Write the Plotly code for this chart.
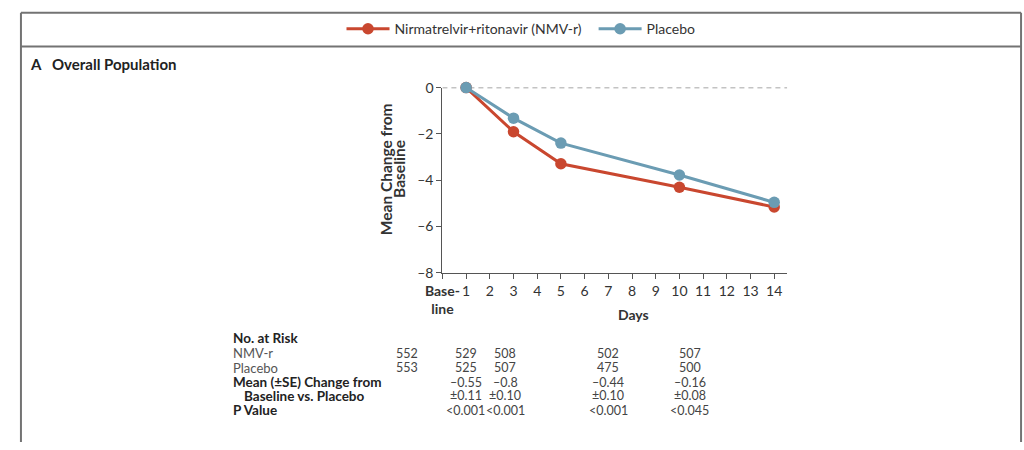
import plotly.graph_objects as go

# ---- data ----
days = [1, 3, 5, 10, 14]
nmv_r = [0.0, -1.91, -3.29, -4.31, -5.16]
placebo = [0.0, -1.32, -2.40, -3.78, -4.96]

x_tick_vals = list(range(0, 15))
x_tick_text = ["<b>Base-</b><br><b>line</b>"] + [str(d) for d in range(1, 15)]
y_tick_vals = [0, -2, -4, -6, -8]
y_tick_text = ["0", "–2", "–4", "–6", "–8"]

risk_nmv = ["552", "529", "508", "502", "507"]
risk_pbo = ["553", "525", "507", "475", "500"]
diff_mean = ["", "–0.55", "–0.8", "–0.44", "–0.16"]
diff_se = ["", "±0.11", "±0.10", "±0.10", "±0.08"]
p_values = ["", "<0.001", "<0.001", "<0.001", "<0.045"]

# ---- style / layout constants ----
W, H = 1024, 450
RED = "#C9472F"
BLUE = "#6B9CB3"
TXT = "#333333"
FRAME = "#737373"
FONT = "Lato"

def px(x):
    return x / W

def py(y):
    return 1 - y / H

fig = go.Figure()
fig.add_trace(go.Scatter(x=days, y=nmv_r, mode="lines+markers",
                         name="Nirmatrelvir+ritonavir (NMV-r)\u00a0\u00a0",
                         line=dict(color=RED, width=3), marker=dict(color=RED, size=11.5),
                         cliponaxis=False))
fig.add_trace(go.Scatter(x=days, y=placebo, mode="lines+markers", name="Placebo",
                         line=dict(color=BLUE, width=3), marker=dict(color=BLUE, size=11.5),
                         cliponaxis=False))

plot_left, plot_right, plot_top, plot_bottom = 432, 783, 81.7, 274

fig.update_layout(
    width=W, height=H,
    margin=dict(l=0, r=0, t=0, b=0),
    paper_bgcolor="white", plot_bgcolor="white",
    font=dict(family=FONT, size=13, color=TXT),
    showlegend=True,
    legend=dict(orientation="h", x=0.5, xanchor="center", y=py(21), yanchor="middle",
                font=dict(size=14, color=TXT), itemwidth=43, traceorder="normal",
                bgcolor="rgba(0,0,0,0)"),
    xaxis=dict(domain=[px(plot_left), px(plot_right)], range=[0, 14.55],
               tickvals=x_tick_vals, ticktext=x_tick_text, ticks="outside", ticklen=5,
               tickcolor="#555", showline=True, linecolor="#555", linewidth=1.2,
               showgrid=False, zeroline=False, tickfont=dict(size=14, color=TXT),
               fixedrange=True),
    yaxis=dict(domain=[py(plot_bottom), py(plot_top)], range=[-8, 0],
               tickvals=y_tick_vals, ticktext=y_tick_text, ticks="outside", ticklen=5,
               tickcolor="#555", showline=True, linecolor="#555", linewidth=1.2,
               showgrid=False, zeroline=False, tickfont=dict(size=14, color=TXT),
               fixedrange=True),
)

# dashed reference line at zero
fig.add_shape(type="line", xref="x", yref="y", x0=0, x1=14.55, y0=0, y1=0,
              line=dict(color="#888", width=1.5, dash="5px,4px"), layer="below")

# frame (top, legend separator, left, right)
frame_lines = [
    (3, 4, 1021, 4),
    (3, 39, 1021, 39),
    (3, 4, 3, 450),
    (1021, 4, 1021, 450),
]
for x0, y0, x1, y1 in frame_lines:
    fig.add_shape(type="line", xref="paper", yref="paper", x0=px(x0), x1=px(x1), y0=py(y0), y1=py(y1),
                  line=dict(color=FRAME, width=2))

ann = []
ann.append(dict(x=px(10), y=py(57), text="<b>A</b>", font=dict(size=15, color="#222"),
                xanchor="left", yanchor="middle"))
ann.append(dict(x=px(33), y=py(57), text="<b>Overall Population</b>", font=dict(size=15, color="#222"),
                xanchor="left", yanchor="middle"))
ann.append(dict(x=px(374), y=py(166), text="<b>Mean Change from</b>", textangle=-90,
                font=dict(size=15.5, color=TXT), xanchor="center", yanchor="middle"))
ann.append(dict(x=px(388), y=py(166), text="<b>Baseline</b>", textangle=-90,
                font=dict(size=15.5, color=TXT), xanchor="center", yanchor="middle"))
ann.append(dict(x=px(627), y=py(317), text="<b>Days</b>", font=dict(size=14, color=TXT),
                xanchor="center", yanchor="middle"))

# table
label_x = 217
ann.append(dict(x=px(label_x), y=py(342), text="<b>No. at Risk</b>", font=dict(size=13.5, color="#222"),
                xanchor="left", yanchor="middle"))
ann.append(dict(x=px(label_x), y=py(358), text="NMV-r", font=dict(size=13, color="#555"),
                xanchor="left", yanchor="middle"))
ann.append(dict(x=px(label_x), y=py(373), text="Placebo", font=dict(size=13, color="#555"),
                xanchor="left", yanchor="middle"))
ann.append(dict(x=px(label_x), y=py(388), text="<b>Mean (±SE) Change from</b>", font=dict(size=13.5, color="#222"),
                xanchor="left", yanchor="middle"))
ann.append(dict(x=px(228), y=py(402), text="<b>Baseline vs. Placebo</b>", font=dict(size=13.5, color="#222"),
                xanchor="left", yanchor="middle"))
ann.append(dict(x=px(label_x), y=py(417), text="<b>P Value</b>", font=dict(size=13.5, color="#222"),
                xanchor="left", yanchor="middle"))

col_x = [396, 456, 496, 601, 684]
rows = [(358, risk_nmv), (373, risk_pbo), (388, diff_mean), (402, diff_se), (417, p_values)]
for ypix, vals in rows:
    for cx, v in zip(col_x, vals):
        if v:
            ann.append(dict(x=px(cx), y=py(ypix), text=v, font=dict(size=12.5, color="#444"),
                            xanchor="center", yanchor="middle"))

for a in ann:
    a.update(xref="paper", yref="paper", showarrow=False)
fig.update_layout(annotations=ann)

fig.write_html(
    "out.html",
    config={"displayModeBar": False},
    post_script="document.body.style.margin='0';document.documentElement.style.overflow='hidden';document.body.style.overflow='hidden';",
)
